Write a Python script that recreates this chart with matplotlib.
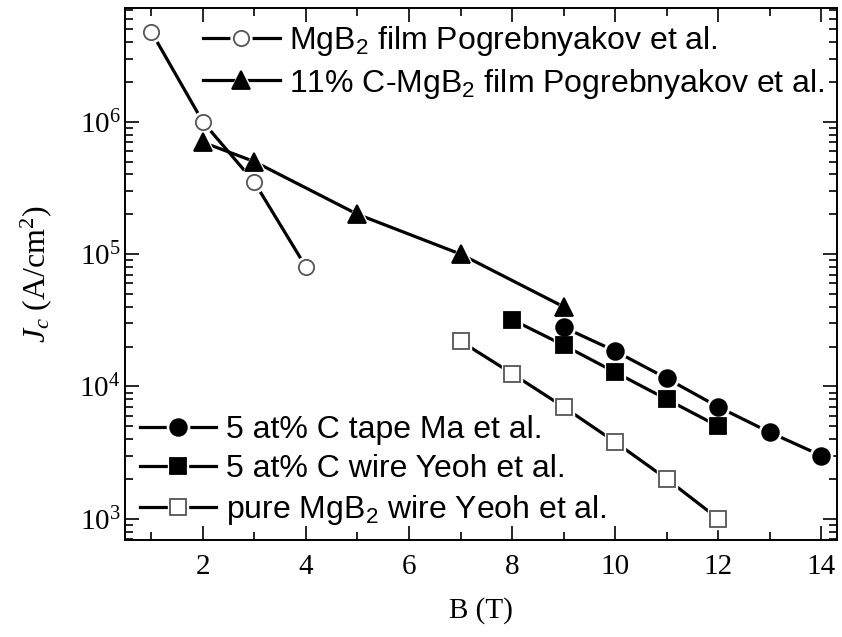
import numpy as np
import matplotlib
matplotlib.use("Agg")
import matplotlib.pyplot as plt

plt.rcParams['font.family'] = ['Liberation Serif', 'DejaVu Serif']
plt.rcParams['mathtext.fontset'] = 'custom'
plt.rcParams['mathtext.rm'] = 'Liberation Serif'
plt.rcParams['mathtext.it'] = 'Liberation Serif:italic'
plt.rcParams['mathtext.default'] = 'regular'

# data
b_film = [1, 2, 3, 4]
jc_film = [4.8e6, 1.0e6, 3.5e5, 8.0e4]

b_cfilm = [2, 3, 5, 7, 9]
jc_cfilm = [7.0e5, 5.0e5, 2.0e5, 1.0e5, 4.0e4]

b_tape = [9, 10, 11, 12, 13, 14]
jc_tape = [2.8e4, 1.85e4, 1.15e4, 7.0e3, 4.5e3, 3.0e3]

b_cwire = [8, 9, 10, 11, 12]
jc_cwire = [3.2e4, 2.05e4, 1.28e4, 8.0e3, 5.0e3]

b_wire = [7, 8, 9, 10, 11, 12]
jc_wire = [2.2e4, 1.25e4, 7.0e3, 3.8e3, 2.0e3, 1.0e3]

labels_top = ["MgB$_2$ film Pogrebnyakov et al.",
              "11% C-MgB$_2$ film Pogrebnyakov et al."]
labels_bot = ["5 at% C tape Ma et al.",
              "5 at% C wire Yeoh et al.",
              "pure MgB$_2$ wire Yeoh et al."]

fig = plt.figure(figsize=(8.42, 6.37), dpi=100)
ax = fig.add_axes([0.149, 0.152, 0.845, 0.835])


def series(x, y, marker, ms, fill, edge):
    ln, = ax.plot(x, y, '-', color='k', lw=2.3, zorder=2)
    mask, = ax.plot(x, y, ls='none', marker=marker, ms=ms + 4,
                    mfc='white', mec='white', zorder=3)
    mk, = ax.plot(x, y, ls='none', marker=marker, ms=ms,
                  mfc=fill, mec=edge, mew=1.3, zorder=4)
    return (ln, mask, mk)


h1 = series(b_film, jc_film, 'o', 11, 'white', '#555555')
h2 = series(b_cfilm, jc_cfilm, '^', 13, 'black', 'black')
h3 = series(b_tape, jc_tape, 'o', 12, 'black', 'black')
h4 = series(b_cwire, jc_cwire, 's', 11, 'black', 'black')
h5 = series(b_wire, jc_wire, 's', 11, 'white', '#555555')

ax.set_yscale('log')
ax.set_xlim(0.5, 14.3)
ax.set_ylim(690, 7.2e6)
ax.set_xticks([2, 4, 6, 8, 10, 12, 14])
ax.set_xticks(np.arange(1, 15), minor=True)

ax.tick_params(which='both', direction='in', top=True, right=True,
               labelsize=21, width=1.2)
ax.tick_params(which='major', length=10)
ax.tick_params(which='minor', length=6)
ax.tick_params(axis='x', pad=10)
for s in ax.spines.values():
    s.set_linewidth(1.4)

ax.set_xlabel("B (T)", fontsize=21, labelpad=12)
ax.set_ylabel("$\\mathit{J_c}$ (A/cm$^2$)", fontsize=23, labelpad=18)

leg_font = {'family': 'Liberation Sans', 'size': 23}
leg1 = ax.legend([h1, h2], labels_top, loc='upper left',
                 bbox_to_anchor=(0.109, 0.971), frameon=False, prop=leg_font,
                 numpoints=1, handlelength=2.4, handletextpad=0.3,
                 labelspacing=0.28, borderpad=0, borderaxespad=0)
ax.add_artist(leg1)
ax.legend([h3, h4, h5], labels_bot, loc='lower left',
          bbox_to_anchor=(0.02, 0.025), frameon=False, prop=leg_font,
          numpoints=1, handlelength=2.4, handletextpad=0.3,
          labelspacing=0.28, borderpad=0, borderaxespad=0)

fig.savefig("out.png", dpi=100)
